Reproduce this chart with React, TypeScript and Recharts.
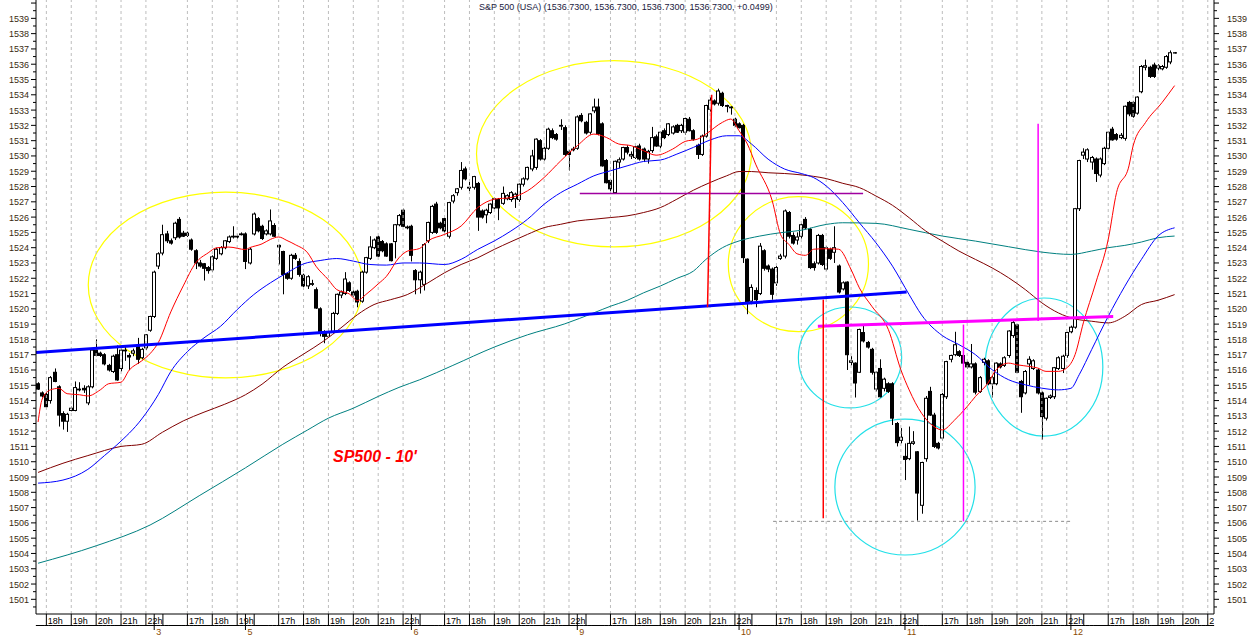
import React from 'react'
import {
  ComposedChart,
  Bar,
  Line,
  XAxis,
  YAxis,
  ReferenceLine,
  ReferenceArea,
  ReferenceDot,
} from 'recharts'

type Ohlc = [number, number, number, number] // open, high, low, close

// 10 minute bars, one array per session
const jul2: Ohlc[] = [
  [1515.1, 1515.2, 1514.7, 1514.75], [1514.5, 1514.6, 1514.2, 1514.3], [1514.4, 1514.5, 1513.5, 1513.6],
  [1514.0, 1515.6, 1513.8, 1515.5], [1515.85, 1516.1, 1515.2, 1515.25], [1514.9, 1515.0, 1512.3, 1513.05],
  [1513.15, 1513.3, 1512.1, 1512.65], [1512.65, 1513.2, 1511.95, 1513.1], [1513.35, 1513.6, 1513.3, 1513.5],
  [1513.35, 1515.25, 1513.3, 1514.85], [1514.7, 1515.2, 1514.6, 1514.75], [1514.8, 1515.0, 1514.5, 1514.7],
  [1513.85, 1515.0, 1513.7, 1514.9], [1514.9, 1517.4, 1514.8, 1517.3], [1517.3, 1518.0, 1516.9, 1516.95],
  [1517.1, 1517.2, 1516.85, 1516.95], [1517.0, 1517.1, 1516.3, 1516.4], [1516.3, 1516.4, 1515.9, 1516.0],
  [1515.9, 1517.0, 1515.8, 1516.9], [1517.0, 1517.6, 1515.3, 1515.35], [1516.1, 1517.4, 1515.9, 1517.3],
  [1517.25, 1517.6, 1516.6, 1517.3], [1516.95, 1517.1, 1516.0, 1516.85], [1517.1, 1517.4, 1516.9, 1517.25],
  [1517.55, 1518.1, 1516.4, 1516.7], [1516.8, 1517.45, 1516.7, 1517.35], [1517.45, 1518.35, 1517.3, 1518.3],
  [1518.6, 1519.55, 1518.5, 1519.5],
]
const jul3: Ohlc[] = [
  [1519.5, 1522.5, 1519.4, 1522.4], [1522.8, 1523.7, 1522.6, 1523.6], [1523.65, 1525.5, 1523.5, 1524.85],
  [1524.9, 1525.1, 1524.3, 1524.45], [1524.45, 1524.6, 1524.2, 1524.3], [1524.65, 1525.7, 1524.5, 1525.6],
  [1525.85, 1526.0, 1524.6, 1524.7], [1524.95, 1525.1, 1524.7, 1524.75], [1524.95, 1525.05, 1524.7, 1524.8],
  [1524.5, 1524.6, 1523.8, 1523.9], [1523.8, 1523.9, 1522.6, 1523.0], [1523.0, 1523.2, 1522.7, 1522.8],
  [1522.95, 1523.0, 1521.85, 1522.65], [1522.7, 1522.8, 1522.3, 1522.5], [1522.55, 1523.5, 1522.4, 1523.4],
  [1523.3, 1524.0, 1523.2, 1523.9], [1523.6, 1524.1, 1523.5, 1524.0], [1524.0, 1524.5, 1523.9, 1524.45],
  [1524.4, 1524.8, 1524.3, 1524.7], [1524.7, 1525.4, 1524.6, 1524.75], [1524.75, 1524.85, 1524.6, 1524.7],
  [1524.9, 1525.0, 1524.8, 1524.85],
]
const jul5: Ohlc[] = [
  [1524.9, 1525.0, 1522.6, 1523.1], [1523.0, 1524.0, 1522.9, 1523.9], [1524.9, 1526.3, 1524.8, 1526.2],
  [1525.9, 1526.0, 1525.0, 1525.1], [1525.4, 1525.5, 1524.5, 1524.6], [1524.9, 1525.2, 1524.8, 1525.1],
  [1524.9, 1526.5, 1524.8, 1525.75], [1525.45, 1525.6, 1524.7, 1524.75], [1524.15, 1524.2, 1522.9, 1524.05],
  [1523.75, 1523.8, 1520.95, 1522.25], [1522.3, 1522.4, 1521.9, 1522.0], [1522.0, 1523.6, 1521.9, 1523.5],
  [1523.5, 1523.65, 1523.2, 1523.3], [1523.1, 1523.3, 1522.1, 1522.25], [1522.2, 1522.3, 1521.4, 1521.5],
  [1521.5, 1522.2, 1521.3, 1522.1], [1521.6, 1521.9, 1521.5, 1521.65], [1521.25, 1521.4, 1520.0, 1520.05],
  [1520.0, 1520.1, 1518.2, 1518.4], [1518.5, 1518.6, 1517.75, 1518.2], [1518.2, 1518.7, 1518.1, 1518.45],
  [1518.5, 1519.8, 1518.4, 1519.7], [1519.7, 1521.0, 1519.6, 1520.95], [1520.9, 1521.2, 1520.7, 1521.1],
  [1521.0, 1522.4, 1520.9, 1521.95], [1521.7, 1521.8, 1521.1, 1521.2], [1521.1, 1521.2, 1520.8, 1520.9],
  [1521.15, 1521.25, 1520.1, 1520.45], [1520.5, 1522.5, 1520.4, 1522.4], [1522.4, 1523.4, 1522.3, 1523.35],
  [1523.3, 1524.75, 1523.2, 1524.05], [1524.0, 1524.6, 1523.9, 1524.5], [1524.7, 1524.8, 1523.4, 1523.45],
  [1524.4, 1524.5, 1523.7, 1523.8], [1524.25, 1524.35, 1523.4, 1523.45], [1524.25, 1524.3, 1523.1, 1523.15],
  [1524.4, 1525.55, 1523.3, 1525.5], [1525.5, 1526.2, 1525.4, 1526.1], [1526.45, 1526.55, 1525.35, 1525.4],
  [1525.35, 1525.45, 1525.2, 1525.3],
]
const jul6: Ohlc[] = [
  [1525.4, 1525.5, 1523.1, 1523.5], [1522.5, 1522.6, 1520.95, 1521.9], [1521.9, 1522.5, 1521.0, 1522.4],
  [1521.6, 1524.3, 1521.2, 1524.2], [1524.45, 1525.7, 1524.3, 1525.65], [1525.0, 1526.8, 1524.9, 1526.7],
  [1526.85, 1527.0, 1524.9, 1525.0], [1525.6, 1525.7, 1525.2, 1525.3], [1525.9, 1526.0, 1525.0, 1525.1],
  [1524.75, 1527.0, 1524.6, 1526.95], [1527.05, 1527.5, 1526.9, 1527.4], [1527.6, 1527.9, 1527.4, 1527.85],
  [1527.95, 1529.6, 1527.8, 1529.05], [1529.15, 1529.3, 1528.4, 1528.5], [1527.95, 1528.3, 1527.7, 1527.9],
  [1527.95, 1528.7, 1527.8, 1528.65], [1528.2, 1528.3, 1525.1, 1526.0], [1526.4, 1526.5, 1525.9, 1526.0],
  [1526.15, 1526.55, 1525.6, 1526.45], [1526.3, 1526.9, 1526.2, 1526.85], [1526.6, 1527.3, 1526.5, 1527.2],
  [1527.15, 1527.25, 1525.8, 1526.6], [1526.9, 1528.0, 1526.8, 1527.55], [1527.2, 1527.5, 1527.1, 1527.4],
  [1527.15, 1527.7, 1527.0, 1527.6], [1527.2, 1527.6, 1526.6, 1527.5], [1527.15, 1528.2, 1527.0, 1528.15],
  [1528.15, 1528.6, 1528.0, 1528.5], [1528.5, 1529.3, 1528.4, 1529.25], [1529.15, 1530.4, 1529.0, 1530.0],
  [1529.25, 1531.15, 1529.1, 1531.1], [1531.0, 1531.1, 1529.7, 1529.8], [1529.8, 1530.6, 1529.7, 1530.5],
  [1530.5, 1531.85, 1530.4, 1531.75], [1531.65, 1531.8, 1531.1, 1531.2], [1531.4, 1531.5, 1531.0, 1531.1],
  [1531.95, 1532.4, 1531.7, 1532.0], [1531.85, 1532.0, 1530.0, 1530.1], [1530.3, 1530.4, 1529.05, 1530.1],
  [1530.45, 1530.6, 1530.3, 1530.4],
]
const jul9: Ohlc[] = [
  [1530.5, 1532.65, 1530.4, 1532.55], [1532.65, 1532.8, 1532.2, 1532.3], [1532.2, 1532.3, 1531.4, 1531.5],
  [1531.55, 1532.8, 1531.4, 1532.75], [1532.95, 1533.75, 1532.8, 1533.2], [1533.2, 1533.75, 1531.35, 1531.45],
  [1532.1, 1532.2, 1529.3, 1529.35], [1529.7, 1529.8, 1528.2, 1528.25], [1528.4, 1528.5, 1527.6, 1527.85],
  [1527.6, 1529.7, 1527.55, 1529.65], [1529.6, 1529.9, 1529.2, 1529.75], [1529.8, 1530.6, 1529.7, 1530.55],
  [1530.55, 1530.7, 1530.1, 1530.25], [1530.0, 1530.3, 1529.8, 1530.1], [1529.9, 1530.7, 1529.8, 1530.6],
  [1530.65, 1530.8, 1529.7, 1529.8], [1530.45, 1530.55, 1529.6, 1529.8], [1529.8, 1530.4, 1529.5, 1530.3],
  [1530.35, 1531.9, 1530.2, 1531.2], [1531.25, 1531.4, 1530.6, 1530.65], [1530.65, 1531.6, 1530.5, 1531.55],
  [1531.65, 1531.8, 1531.1, 1531.2], [1531.4, 1532.15, 1531.3, 1532.1], [1531.5, 1532.0, 1531.4, 1531.9],
  [1532.0, 1532.1, 1531.5, 1531.55], [1531.65, 1532.1, 1531.5, 1532.0], [1531.55, 1532.5, 1531.4, 1532.45],
  [1532.4, 1532.55, 1531.6, 1531.65], [1531.65, 1531.75, 1531.0, 1531.1], [1530.7, 1530.8, 1529.8, 1530.1],
  [1530.1, 1531.4, 1530.0, 1531.3], [1531.3, 1533.35, 1531.2, 1533.3], [1533.05, 1533.85, 1532.9, 1533.65],
  [1533.6, 1533.7, 1533.3, 1533.4], [1533.45, 1534.4, 1533.3, 1534.25], [1534.1, 1534.2, 1533.2, 1533.3],
  [1533.3, 1533.35, 1532.85, 1533.25], [1533.2, 1533.25, 1532.7, 1533.15], [1532.4, 1532.5, 1531.9, 1532.0],
  [1532.1, 1532.2, 1531.8, 1531.85],
]
const jul10: Ohlc[] = [
  [1532.0, 1532.1, 1523.0, 1523.35], [1523.25, 1523.3, 1519.65, 1520.4], [1520.5, 1521.6, 1520.3, 1521.4],
  [1521.2, 1521.4, 1520.1, 1520.6], [1521.0, 1524.3, 1520.9, 1524.1], [1523.8, 1523.9, 1522.5, 1522.65],
  [1522.8, 1522.9, 1522.4, 1522.6], [1522.6, 1522.7, 1520.6, 1520.95], [1521.7, 1522.8, 1521.5, 1522.7],
  [1523.3, 1523.6, 1523.2, 1523.45], [1523.45, 1526.5, 1523.3, 1526.4], [1526.3, 1526.4, 1524.6, 1524.75],
  [1524.8, 1525.0, 1524.2, 1524.3], [1524.5, 1525.0, 1524.2, 1524.7], [1524.75, 1525.6, 1524.6, 1525.5],
  [1525.85, 1526.0, 1525.2, 1525.3], [1525.2, 1525.3, 1522.6, 1522.7], [1522.95, 1523.1, 1522.5, 1522.7],
  [1523.0, 1524.9, 1522.9, 1524.8], [1524.8, 1524.9, 1522.8, 1522.9], [1522.6, 1524.1, 1522.5, 1524.0],
  [1523.9, 1524.0, 1523.2, 1523.3], [1523.7, 1525.4, 1523.0, 1524.0], [1522.8, 1522.9, 1521.0, 1521.1],
  [1521.3, 1521.8, 1521.2, 1521.7], [1521.75, 1521.8, 1516.0, 1517.0], [1516.5, 1516.9, 1516.3, 1516.6],
  [1516.45, 1516.5, 1514.2, 1515.15], [1515.85, 1518.7, 1515.8, 1518.65], [1518.45, 1518.9, 1517.8, 1517.9],
  [1517.8, 1517.9, 1517.4, 1517.5], [1517.35, 1517.45, 1515.7, 1515.85], [1514.75, 1515.9, 1514.6, 1515.85],
  [1516.1, 1516.7, 1514.2, 1514.25], [1514.8, 1515.5, 1514.6, 1515.4], [1515.1, 1515.2, 1514.5, 1514.6],
  [1515.1, 1515.2, 1512.4, 1512.85], [1512.5, 1512.6, 1511.0, 1511.25], [1511.4, 1512.2, 1511.2, 1511.6],
]
const jul11: Ohlc[] = [
  [1510.35, 1511.2, 1508.8, 1510.15], [1510.2, 1512.3, 1510.1, 1511.2], [1511.2, 1512.0, 1511.1, 1511.3],
  [1510.65, 1510.7, 1506.15, 1507.95], [1507.15, 1510.0, 1506.6, 1509.95], [1510.2, 1514.3, 1510.0, 1514.15],
  [1514.6, 1514.9, 1513.0, 1513.05], [1513.05, 1513.2, 1510.9, 1511.0], [1511.2, 1511.3, 1510.8, 1510.9],
  [1511.55, 1514.5, 1511.4, 1514.4], [1514.25, 1516.6, 1514.1, 1516.55], [1516.7, 1517.0, 1516.5, 1516.95],
  [1517.0, 1518.5, 1516.9, 1517.65], [1517.2, 1517.3, 1516.85, 1516.95], [1516.95, 1517.05, 1516.4, 1516.45],
  [1516.5, 1516.6, 1516.1, 1516.2], [1516.2, 1517.7, 1516.1, 1516.4], [1516.4, 1516.5, 1514.4, 1514.55],
  [1514.6, 1515.6, 1514.5, 1515.5], [1516.5, 1516.8, 1516.3, 1516.7], [1516.6, 1516.7, 1515.0, 1515.1],
  [1515.1, 1515.6, 1514.2, 1515.5], [1515.1, 1516.5, 1515.0, 1516.45], [1516.4, 1516.5, 1516.1, 1516.2],
  [1516.3, 1516.9, 1516.2, 1516.8], [1516.95, 1518.6, 1516.8, 1518.55], [1518.25, 1519.2, 1518.1, 1519.1],
  [1518.95, 1519.0, 1515.8, 1515.85], [1515.25, 1515.35, 1513.2, 1514.25], [1514.5, 1516.0, 1514.4, 1515.9],
  [1516.4, 1516.9, 1515.0, 1516.7], [1516.1, 1516.7, 1516.0, 1516.6], [1516.0, 1516.1, 1514.4, 1514.5],
  [1514.5, 1514.6, 1511.45, 1512.95], [1512.85, 1514.2, 1512.7, 1514.15], [1514.2, 1514.4, 1514.1, 1514.3],
  [1514.25, 1516.2, 1514.1, 1516.15], [1516.1, 1516.9, 1516.0, 1516.8], [1516.1, 1517.0, 1515.8, 1516.9],
  [1516.95, 1518.5, 1516.8, 1518.45], [1518.5, 1518.9, 1518.4, 1518.8],
]
const jul12: Ohlc[] = [
  [1518.8, 1526.6, 1518.7, 1526.55], [1526.55, 1529.75, 1526.4, 1529.7], [1530.05, 1530.5, 1529.8, 1530.25],
  [1529.8, 1530.5, 1529.6, 1530.4], [1529.6, 1530.0, 1529.1, 1529.9], [1529.8, 1529.9, 1528.3, 1528.85],
  [1528.75, 1529.9, 1528.6, 1529.8], [1529.5, 1530.6, 1529.4, 1530.5], [1530.5, 1531.6, 1530.4, 1531.55],
  [1531.75, 1531.9, 1531.0, 1531.05], [1531.4, 1531.5, 1531.0, 1531.1], [1531.2, 1531.5, 1531.1, 1531.35],
  [1531.15, 1533.3, 1531.0, 1533.25], [1533.5, 1533.6, 1532.6, 1532.75], [1533.5, 1533.6, 1532.5, 1532.6],
  [1532.8, 1533.9, 1532.7, 1533.85], [1534.2, 1535.95, 1534.1, 1535.85], [1535.8, 1536.3, 1535.6, 1535.9],
  [1535.8, 1535.9, 1535.1, 1535.2], [1535.95, 1536.1, 1535.1, 1535.2], [1535.75, 1536.0, 1535.6, 1535.9],
  [1535.7, 1535.95, 1535.6, 1535.85], [1535.8, 1536.6, 1535.7, 1536.5], [1536.15, 1536.9, 1536.0, 1536.75],
  [1536.75, 1536.8, 1536.7, 1536.73],
]

// moving averages, read at [bar slot, value]
const fastMa: [number, number][] = [
  [0, 1512.6], [1, 1514.1], [3, 1514.7], [5, 1514.8], [7, 1514.45], [10, 1514.38], [12, 1514.3], [15, 1514.7],
  [17, 1515.1], [20, 1515.2], [22, 1516.0], [25, 1516.6], [27, 1517.07], [29, 1517.8], [32, 1519.8], [35, 1521.5],
  [38, 1523.0], [41, 1523.66], [43, 1523.99], [46, 1524.04], [50, 1523.88], [51, 1524.0], [54, 1524.25],
  [56, 1524.54], [58, 1524.7], [60, 1524.47], [62, 1524.2], [65, 1523.66], [67, 1522.79], [70, 1521.9],
  [72, 1521.26], [75, 1520.98], [77, 1520.54], [79, 1520.93], [82, 1521.63], [84, 1522.13], [87, 1523.34],
  [89, 1523.77], [92, 1523.95], [94, 1524.44], [98, 1524.87], [102, 1525.42], [106, 1526.62], [110, 1527.17],
  [114, 1527.28], [118, 1527.72], [122, 1528.59], [126, 1529.68], [130, 1530.67], [134, 1531.43], [137, 1531.21],
  [140, 1530.78], [143, 1530.67], [146, 1530.34], [149, 1530.05], [153, 1530.45], [156, 1530.95], [159, 1531.1],
  [161, 1531.43], [165, 1532.2], [167, 1532.41], [169, 1531.65], [171, 1530.78], [173, 1529.46], [177, 1527.06],
  [179, 1524.87], [181, 1524.22], [183, 1523.6], [185, 1523.5], [187, 1523.9], [190, 1523.93], [193, 1523.9],
  [196, 1522.57], [198, 1521.37], [201, 1520.17], [205, 1518.64], [208, 1516.02], [210, 1514.7], [213, 1513.17],
  [216, 1512.3], [218, 1512.08], [221, 1512.74], [224, 1513.61], [226, 1514.27], [229, 1515.14], [231, 1516.02],
  [234, 1516.45], [236, 1516.34], [239, 1516.23], [241, 1516.13], [243, 1515.91], [246, 1515.91], [248, 1516.13],
  [250, 1517.0], [252, 1519.08], [255, 1521.7], [258, 1524.54], [260, 1527.6], [263, 1529.35], [264, 1530.66],
  [267, 1532.19], [271, 1533.5], [274, 1534.6],
]
const midMa: [number, number][] = [
  [0, 1508.6], [6, 1508.8], [12, 1509.5], [16, 1510.4], [19, 1511.1], [25, 1512.8], [29, 1514.4], [32, 1515.9],
  [36, 1517.2], [40, 1518.1], [44, 1518.86], [48, 1519.95], [52, 1520.93], [56, 1521.7], [60, 1522.35],
  [64, 1522.94], [68, 1523.16], [72, 1523.29], [76, 1523.12], [80, 1522.9], [84, 1522.86], [88, 1523.0],
  [92, 1523.0], [98, 1522.9], [102, 1523.24], [106, 1523.89], [110, 1524.44], [114, 1525.09], [118, 1525.86],
  [122, 1526.84], [126, 1527.6], [130, 1528.15], [134, 1528.7], [138, 1529.03], [142, 1529.35], [146, 1529.64],
  [150, 1529.73], [154, 1530.12], [158, 1530.56], [162, 1531.04], [166, 1531.32], [169, 1531.32], [172, 1530.78],
  [176, 1529.79], [180, 1529.14], [184, 1528.85], [187, 1528.58], [190, 1528.04], [194, 1526.95], [198, 1525.63],
  [202, 1524.32], [206, 1522.79], [210, 1520.93], [213, 1519.6], [218, 1518.25], [222, 1517.66], [226, 1517.0],
  [230, 1516.02], [234, 1515.36], [238, 1515.03], [242, 1514.81], [246, 1514.7], [249, 1514.8], [251, 1515.69],
  [254, 1517.33], [258, 1519.51], [262, 1521.48], [266, 1523.23], [270, 1524.76], [274, 1525.3],
]
const slowMa: [number, number][] = [
  [0, 1509.3], [6, 1509.9], [12, 1510.4], [20, 1511.0], [25, 1511.14], [30, 1511.93], [35, 1512.67], [40, 1513.24],
  [45, 1513.76], [50, 1514.38], [54, 1515.07], [59, 1516.17], [64, 1517.04], [69, 1517.92], [73, 1518.75],
  [77, 1519.62], [81, 1520.28], [85, 1520.6], [89, 1520.93], [94, 1521.7], [98, 1522.36], [102, 1522.9],
  [106, 1523.34], [110, 1523.89], [114, 1524.39], [118, 1524.87], [122, 1525.31], [126, 1525.53], [130, 1525.75],
  [134, 1525.86], [138, 1525.97], [142, 1526.08], [146, 1526.3], [150, 1526.62], [154, 1527.17], [158, 1527.76],
  [162, 1528.26], [166, 1528.7], [169, 1528.98], [172, 1528.98], [176, 1528.9], [180, 1528.85], [184, 1528.76],
  [190, 1528.52], [194, 1528.21], [198, 1527.93], [202, 1527.38], [206, 1526.77], [210, 1525.96], [214, 1525.09],
  [218, 1524.43], [222, 1523.78], [226, 1523.23], [230, 1522.68], [234, 1522.03], [238, 1521.26], [242, 1520.39],
  [246, 1519.73], [250, 1519.34], [254, 1519.19], [258, 1519.08], [262, 1519.51], [266, 1520.28], [270, 1520.56],
  [274, 1520.93],
]
const longMa: [number, number][] = [
  [0, 1503.36], [14, 1504.5], [27, 1505.86], [39, 1507.8], [50, 1509.6], [59, 1511.14], [65, 1512.08],
  [70, 1512.85], [76, 1513.5], [82, 1514.27], [87, 1514.86], [92, 1515.36], [100, 1516.3], [110, 1517.5],
  [118, 1518.3], [127, 1519.02], [134, 1519.74], [138, 1520.17], [142, 1520.55], [146, 1521.05], [150, 1521.49],
  [154, 1521.99], [158, 1522.47], [161, 1523.23], [165, 1524.0], [169, 1524.44], [174, 1524.76], [179, 1524.98],
  [184, 1525.14], [190, 1525.52], [194, 1525.63], [202, 1525.59], [210, 1525.2], [218, 1524.76], [226, 1524.43],
  [234, 1524.06], [242, 1523.71], [249, 1523.56], [254, 1523.78], [258, 1524.0], [262, 1524.15], [266, 1524.37],
  [270, 1524.65], [274, 1524.76],
]

// hand drawn studies: [slot, price] end points, rings as [slotFrom, slotTo, priceTop, priceBottom]
const blueTrend: [number, number][] = [[-0.5, 1517.15], [209.4, 1521.1]]
const magentaLevel: [number, number][] = [[188, 1518.86], [259.2, 1519.5]]
const magentaMarks: [number, number, number][] = [[223.1, 1518.97, 1506.1], [241.1, 1532.1, 1519.2]]
const redMarks: [number, number, number, number][] = [[162.4, 1534.0, 161.4, 1520.1], [189.3, 1520.6, 189.3, 1506.3]]
const purpleLevel: [number, number][] = [[130.6, 1527.55], [198.9, 1527.55]]
const lowLevel: [number, number][] = [[177.2, 1506.1], [249.2, 1506.1]]
const yellowRings: [number, number, number, number][] = [
  [12.1, 78.3, 1527.64, 1515.48],
  [105.7, 172.0, 1536.23, 1524.05],
  [166.4, 200.2, 1527.34, 1518.51],
]
const cyanRings: [number, number, number, number][] = [
  [183.3, 208.2, 1520.12, 1513.52],
  [192.1, 225.9, 1512.78, 1503.9],
  [228.3, 256.7, 1520.71, 1511.68],
]

const hourTicks: [number, string][] = [
  [2, '18h'], [8, '19h'], [14, '20h'], [20, '21h'], [26, '22h'],
  [36, '17h'], [42, '18h'], [48, '19h'],
  [58, '17h'], [64, '18h'], [70, '19h'], [76, '20h'], [82, '21h'], [88, '22h'],
  [98, '17h'], [104, '18h'], [110, '19h'], [116, '20h'], [122, '21h'], [128, '22h'],
  [138, '17h'], [144, '18h'], [150, '19h'], [156, '20h'], [162, '21h'], [168, '22h'],
  [178, '17h'], [184, '18h'], [190, '19h'], [196, '20h'], [202, '21h'], [208, '22h'],
  [218, '17h'], [224, '18h'], [230, '19h'], [236, '20h'], [242, '21h'], [248, '22h'],
  [258, '17h'], [264, '18h'], [270, '19h'], [276, '20h'], [282, '21h'],
]
const dateTicks: [number, string][] = [
  [28, '3'], [50, '5'], [90, '6'], [130, '9'], [169, '10'], [209, '11'], [249, '12'],
]
const priceLabels = [
  1501, 1502, 1503, 1504, 1505, 1506, 1507, 1508, 1509, 1510, 1511, 1512, 1513, 1514, 1515, 1516, 1517, 1518,
  1519, 1520, 1521, 1522, 1523, 1524, 1525, 1526, 1527, 1528, 1529, 1530, 1531, 1532, 1533, 1534, 1535, 1536,
  1537, 1538, 1539,
]
const title = 'S&P 500 (USA) (1536.7300, 1536.7300, 1536.7300, 1536.7300, +0.0499)'
const note = "SP500 - 10'"

const FONT = '"Liberation Sans", Arial, sans-serif'
const SLOTS = 284
const Y_DOMAIN: [number, number] = [1500.04, 1540.2]
const priceTicks = [1500.5, ...priceLabels, ...priceLabels.map((v) => v + 0.5), 1540]

const candles = [...jul2, ...jul3, ...jul5, ...jul6, ...jul9, ...jul10, ...jul11, ...jul12]
// eslint-disable-next-line @typescript-eslint/no-explicit-any
const rows: any[] = Array.from({ length: SLOTS }, (_, slot) => {
  const bar = candles[slot]
  if (!bar) return { slot }
  return { slot, o: bar[0], h: bar[1], l: bar[2], c: bar[3], range: [bar[2], bar[1]] }
})
const putSeries = (key: string, pts: [number, number][]) => pts.forEach(([s, v]) => { rows[s][key] = v })
putSeries('fast', fastMa)
putSeries('mid', midMa)
putSeries('slow', slowMa)
putSeries('long', longMa)

const hourSet = new Map(hourTicks)
const dateSet = new Map(dateTicks)
const lastHourOfSession = new Set(
  hourTicks.filter((t, i) => hourTicks[i + 1] && hourTicks[i + 1][0] - t[0] > 6).map((t) => t[0]),
)

// eslint-disable-next-line @typescript-eslint/no-explicit-any
function Candle(props: any) {
  const { x, y, width, height, payload } = props
  if (!payload || payload.o == null || !(height > 0)) return <g />
  const { o, h, l, c } = payload
  const toY = (v: number) => y + ((h - v) / (h - l)) * height
  const cx = Math.round(x + width / 2)
  const top = toY(Math.max(o, c))
  const bot = toY(Math.min(o, c))
  return (
    <g>
      <line x1={cx + 0.5} x2={cx + 0.5} y1={y} y2={y + height} stroke="#000" strokeWidth={1} />
      <rect x={cx - 1.5} y={top} width={3} height={Math.max(bot - top, 0.01)}
        fill={c >= o ? '#fff' : '#000'} stroke="#000" strokeWidth={1} />
    </g>
  )
}

// eslint-disable-next-line @typescript-eslint/no-explicit-any
function TimeTick(props: any) {
  const { x, y, payload } = props
  const slot = payload.value as number
  const hour = hourSet.get(slot)
  const date = dateSet.get(slot)
  return (
    <g>
      {slot === 0 && (
        <defs>
          <clipPath id="strip-clip"><rect x={36} y={0} width={1178} height={636} /></clipPath>
        </defs>
      )}
      <line x1={x - 2.2} x2={x + 2.2} y1={y + 11.5} y2={y + 11.5} stroke="#000" />
      {hour && (
        <g clipPath="url(#strip-clip)">
          <line x1={x} x2={x} y1={y} y2={y + 11.5} stroke="#000" />
          <text x={x + 1.5} y={y + 9.5} fontSize={9} fontFamily={FONT} fill="#000">{hour}</text>
          {lastHourOfSession.has(slot) && <line x1={x + 17} x2={x + 17} y1={y} y2={y + 11.5} stroke="#000" />}
        </g>
      )}
      {date && (
        <g>
          <line x1={x} x2={x} y1={y} y2={y + 16} stroke="#000" />
          <text x={x + 2} y={y + 21} fontSize={9} fontFamily={FONT} fill="#8a4a00">{date}</text>
        </g>
      )}
    </g>
  )
}

function priceTick(side: 'left' | 'right') {
  // eslint-disable-next-line @typescript-eslint/no-explicit-any
  return function PriceTick(props: any) {
    const { x, y, payload } = props
    const v = payload.value as number
    const major = Number.isInteger(v)
    const len = major ? 5 : 3
    const dir = side === 'left' ? -1 : 1
    return (
      <g>
        <line x1={x} x2={x + dir * len} y1={y} y2={y} stroke="#000" />
        {major && priceLabels.includes(v) && (
          <text x={side === 'left' ? x - 7 : x + 13} y={y + 3.5} fontSize={9} fontFamily={FONT}
            textAnchor={side === 'left' ? 'end' : 'start'} fill="#3a2a10">{v}</text>
        )}
      </g>
    )
  }
}

// eslint-disable-next-line @typescript-eslint/no-explicit-any
const ring = (color: string) => (p: any) => (
  <ellipse cx={p.x + p.width / 2} cy={p.y + p.height / 2} rx={p.width / 2} ry={p.height / 2}
    fill="none" stroke={color} strokeWidth={1.2} />
)

const seg = (pts: [number, number][]) => pts.map(([x, y]) => ({ x, y }))

export default function App() {
  return (
    <div style={{ position: 'absolute', left: 0, top: 0, width: 1250, height: 636, background: '#fff' }}>
      <ComposedChart width={1250} height={636} data={rows} margin={{ top: 0, right: 0, bottom: 0, left: 0 }}>
        <XAxis xAxisId="c" dataKey="slot" type="category" height={22} interval={0} tickSize={0} tickMargin={0}
          tickLine={false} axisLine={{ stroke: '#000' }} tick={<TimeTick />} />
        <XAxis xAxisId="n" dataKey="slot" type="number" domain={[-0.5, SLOTS - 0.5]} allowDataOverflow hide />
        <YAxis yAxisId="l" orientation="left" width={36} type="number" domain={Y_DOMAIN} allowDataOverflow
          ticks={priceTicks} interval={0} tickSize={0} tickMargin={0} tickLine={false}
          axisLine={{ stroke: '#000' }} tick={priceTick('left')} />
        <YAxis yAxisId="r" orientation="right" width={36} type="number" domain={Y_DOMAIN} allowDataOverflow
          ticks={priceTicks} interval={0} tickSize={0} tickMargin={0} tickLine={false}
          axisLine={{ stroke: '#000' }} tick={priceTick('right')} />

        {hourTicks.map(([s]) => (
          <ReferenceLine key={`g${s}`} xAxisId="c" yAxisId="l" x={s} stroke="#bdbdbd" strokeDasharray="3 3" />
        ))}

        <Bar xAxisId="c" yAxisId="l" dataKey="range" barSize={4} shape={Candle} isAnimationActive={false} />

        <Line xAxisId="c" yAxisId="l" dataKey="long" type="monotone" stroke="#008080" strokeWidth={1}
          dot={false} connectNulls isAnimationActive={false} />
        <Line xAxisId="c" yAxisId="l" dataKey="slow" type="monotone" stroke="#800000" strokeWidth={1}
          dot={false} connectNulls isAnimationActive={false} />
        <Line xAxisId="c" yAxisId="l" dataKey="mid" type="monotone" stroke="#0000ff" strokeWidth={1}
          dot={false} connectNulls isAnimationActive={false} />
        <Line xAxisId="c" yAxisId="l" dataKey="fast" type="monotone" stroke="#ff0000" strokeWidth={1}
          dot={false} connectNulls isAnimationActive={false} />

        <ReferenceLine xAxisId="n" yAxisId="l" segment={seg(blueTrend)} stroke="#0000ff" strokeWidth={3} />
        <ReferenceLine xAxisId="n" yAxisId="l" segment={seg(magentaLevel)} stroke="#ff00ff" strokeWidth={3} />
        <ReferenceLine xAxisId="n" yAxisId="l" segment={seg(purpleLevel)} stroke="#a000a0" strokeWidth={1.5} />
        <ReferenceLine xAxisId="n" yAxisId="l" segment={seg(lowLevel)} stroke="#8c8c8c" strokeDasharray="3 3" />
        {magentaMarks.map(([s, a, b]) => (
          <ReferenceLine key={`m${s}`} xAxisId="n" yAxisId="l" segment={[{ x: s, y: a }, { x: s, y: b }]}
            stroke="#ff00ff" strokeWidth={1.5} />
        ))}
        {redMarks.map(([s1, a, s2, b]) => (
          <ReferenceLine key={`r${s1}`} xAxisId="n" yAxisId="l" segment={[{ x: s1, y: a }, { x: s2, y: b }]}
            stroke="#ff0000" strokeWidth={1.5} />
        ))}
        {yellowRings.map(([x1, x2, y1, y2]) => (
          <ReferenceArea key={`y${x1}`} xAxisId="n" yAxisId="l" x1={x1} x2={x2} y1={y1} y2={y2} shape={ring('#ffff00')} />
        ))}
        {cyanRings.map(([x1, x2, y1, y2]) => (
          <ReferenceArea key={`c${x1}`} xAxisId="n" yAxisId="l" x1={x1} x2={x2} y1={y1} y2={y2} shape={ring('#22e0e8')} />
        ))}

        <ReferenceDot xAxisId="n" yAxisId="l" x={71.1} y={1509.98} shape={(p: { cx: number; cy: number }) => (
          <text x={p.cx} y={p.cy} fontSize={16} fontWeight="bold" fontStyle="italic" fontFamily={FONT} fill="#ff0000">
            {note}
          </text>
        )} />
        <ReferenceDot xAxisId="n" yAxisId="l" x={141.7} y={1539.55} shape={(p: { cx: number; cy: number }) => (
          <text x={p.cx} y={p.cy} fontSize={9} fontFamily={FONT} fill="#1a1a40" textAnchor="middle">{title}</text>
        )} />
      </ComposedChart>
    </div>
  )
}
